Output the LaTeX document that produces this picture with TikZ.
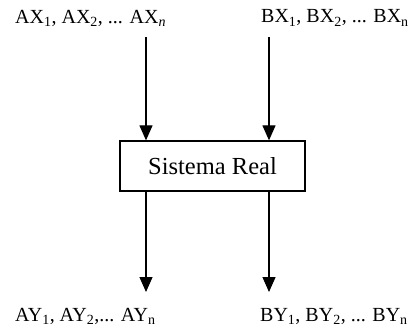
\documentclass[tikz,border=0pt]{standalone}
\usepackage{fontspec}
\setmainfont{Liberation Serif}
\usetikzlibrary{arrows.meta}
\begin{document}
\begin{tikzpicture}[x=1pt,y=-1pt,
  lbl/.style={font=\fontsize{20}{22}\selectfont, inner sep=0pt},
  sysbox/.style={draw, line width=1.3pt, minimum width=185pt, minimum height=50pt, inner sep=0pt, font=\fontsize{24.5}{26}\selectfont},
  arr/.style={line width=1.2pt, -{Triangle[length=15pt,width=13pt]}}]
\useasboundingbox (0,0) rectangle (414,330);
\node[sysbox] (sys) at (212.5,166) {Sistema Real};
\node[lbl, anchor=west] (ax) at (15,18) {AX\textsubscript{1}, AX\textsubscript{2}, ... AX\textsubscript{\itshape n}};
\node[lbl, anchor=west] (bx) at (261,18) {BX\textsubscript{1}, BX\textsubscript{2}, ... BX\textsubscript{n}};
\node[lbl, anchor=west] (ay) at (15,316) {AY\textsubscript{1}, AY\textsubscript{2},... AY\textsubscript{n}};
\node[lbl, anchor=west] (by) at (260,316) {BY\textsubscript{1}, BY\textsubscript{2}, ... BY\textsubscript{n}};
\coordinate (at) at (146,37);
\coordinate (bt) at (269,37);
\coordinate (ab) at (146,292);
\coordinate (bb) at (269,292);
\draw[arr] (at) -- (at |- sys.north);
\draw[arr] (bt) -- (bt |- sys.north);
\draw[arr] (ab |- sys.south) -- (ab);
\draw[arr] (bb |- sys.south) -- (bb);
\end{tikzpicture}
\end{document}
